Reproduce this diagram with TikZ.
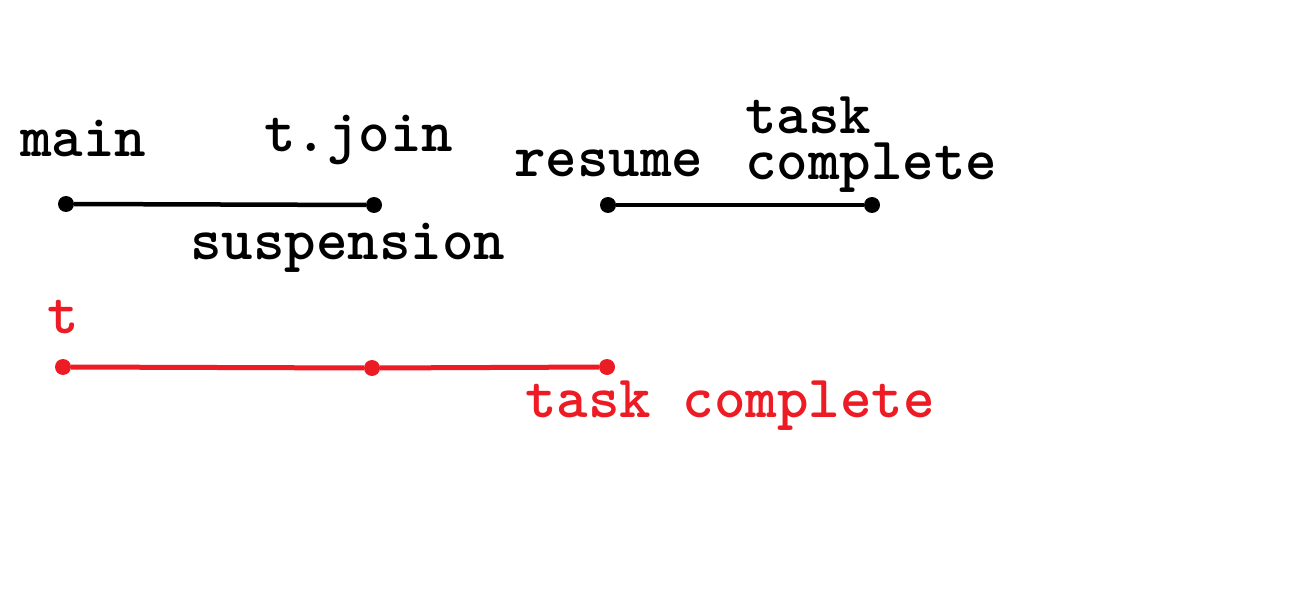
\documentclass[tikz,border=0pt]{standalone}
\definecolor{lred}{RGB}{237,28,36}
\begin{document}
\begin{tikzpicture}[x=1pt,y=-1pt,
  lbl/.style={anchor=base west,inner sep=0pt,font=\fontsize{60}{46}\selectfont\ttfamily\bfseries},
  dot/.style={circle,fill=black,minimum size=16pt,inner sep=0pt},
  rdot/.style={circle,fill=lred,minimum size=16pt,inner sep=0pt},
  seg/.style={line width=4.5pt,black},
  rseg/.style={line width=5pt,lred}]
\useasboundingbox[fill=white] (0,0) rectangle (1303,612);

% main thread timeline
\node[dot] (m0) at (66,204) {};
\node[dot] (m1) at (374,205) {};
\node[dot] (m2) at (608,205) {};
\node[dot] (m3) at (872,205) {};
\draw[seg] (m0) -- (m1);
\draw[seg] (m2) -- (m3);

\node[lbl] (lmain) at (20,157) {main};
\node[lbl] (ljoin) at (264,152) {t.join};
\node[lbl] (lsusp) at (190,260) {suspension};
\node[lbl] (lres) at (514,177) {resume};
% two-line label: the base anchor sits on the last line
\node[lbl,align=left] (ltask) at (745,180) {task\\complete};

% task t timeline
\node[rdot] (t0) at (63,367) {};
\node[rdot] (t1) at (372,368) {};
\node[rdot] (t2) at (607,367) {};
\draw[rseg] (t0) -- (t1) -- (t2);

\node[lbl,lred] (lt) at (47,333) {t};
\node[lbl,lred] (ltc) at (525,417) {task complete};
\end{tikzpicture}
\end{document}
